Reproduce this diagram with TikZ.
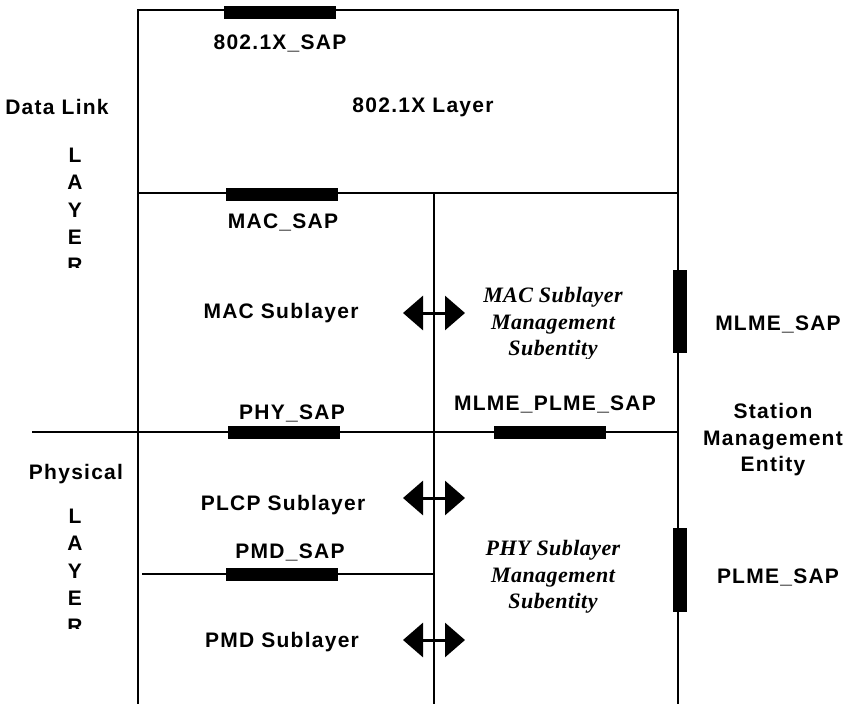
\documentclass[tikz,border=0pt]{standalone}
\usepackage{fontspec}
\setmainfont{Liberation Sans}
\newfontfamily\lblfont{Liberation Sans}[LetterSpace=6]
\newfontfamily\serifit{Liberation Serif}[LetterSpace=2]
\usetikzlibrary{arrows.meta}
\begin{document}
\begin{tikzpicture}[x=1pt,y=-1pt,
  lbl/.style={font=\fontsize{21}{26.5}\selectfont\lblfont\bfseries, align=center, inner sep=0pt},
  vert/.style={font=\fontsize{21}{27.5}\selectfont\lblfont\bfseries, align=center, inner sep=0pt},
  mgmt/.style={font=\fontsize{22}{26.5}\selectfont\serifit\bfseries\itshape, align=center, inner sep=0pt},
  sapbar/.style={fill=black, draw=none},
  frame/.style={line width=1.8pt},
  biarrow/.style={line width=3pt, {Triangle[width=34pt,length=20pt]}-{Triangle[width=34pt,length=20pt]}}]
\useasboundingbox (0,0) rectangle (868,704);
% frame lines
\draw[frame] (138,704) -- (138,10) -- (678,10) -- (678,704);
\draw[frame] (138,193) -- (678,193);
\draw[frame] (434,193) -- (434,704);
\draw[frame] (32,432) -- (678,432);
\draw[frame] (142,574) -- (434,574);
% SAP bars
\fill[sapbar] (224,6) rectangle (336,19);
\fill[sapbar] (226,188) rectangle (338,201);
\fill[sapbar] (228,426) rectangle (340,439);
\fill[sapbar] (226,568) rectangle (338,581);
\fill[sapbar] (494,426) rectangle (606,439);
\fill[sapbar] (673,270) rectangle (687,353);
\fill[sapbar] (673,528) rectangle (687,612);
% arrows
\coordinate (a1l) at (403,313); \coordinate (a1r) at (465,313);
\coordinate (a2l) at (403,498); \coordinate (a2r) at (465,498);
\coordinate (a3l) at (403,640); \coordinate (a3r) at (465,640);
\draw[biarrow] (a1l) -- (a1r);
\draw[biarrow] (a2l) -- (a2r);
\draw[biarrow] (a3l) -- (a3r);
% labels
\node[lbl] (sap8021x) at (280,43) {802.1X\_SAP};
\node[lbl] (layer8021x) at (423,107) {802.1X Layer};
\node[lbl] (datalink) at (57,107) {Data Link};
\begin{scope}
\clip (0,130) rectangle (137,267);
\node[vert] (dllayer) at (75,210) {L\\A\\Y\\E\\R};
\end{scope}
\node[lbl] (macsap) at (283,222) {MAC\_SAP};
\node[lbl] (macsub) at (281,313) {MAC Sublayer};
\begin{scope}
\clip (436,270) rectangle (672,358);
\node[mgmt] (mlmetext) at (553,324) {MAC Sublayer\\Management\\Subentity};
\end{scope}
\node[lbl] (mlmesap) at (778,324) {MLME\_SAP};
\node[lbl] (mlmeplme) at (555,404) {MLME\_PLME\_SAP};
\node[lbl] (physap) at (292,413) {PHY\_SAP};
\begin{scope}
\clip (680,390) rectangle (868,477);
\node[lbl] (sme) at (773,440) {Station\\Management\\Entity};
\end{scope}
\node[lbl] (physical) at (76,474) {Physical};
\begin{scope}
\clip (0,495) rectangle (137,628);
\node[vert] (phlayer) at (75,571) {L\\A\\Y\\E\\R};
\end{scope}
\node[lbl] (plcp) at (283,505) {PLCP Sublayer};
\node[lbl] (pmdsap) at (290,552) {PMD\_SAP};
\node[lbl] (pmdsub) at (282,642) {PMD Sublayer};
\begin{scope}
\clip (436,520) rectangle (672,612);
\node[mgmt] (plmetext) at (553,577) {PHY Sublayer\\Management\\Subentity};
\end{scope}
\node[lbl] (plmesap) at (778,577) {PLME\_SAP};
\end{tikzpicture}
\end{document}
